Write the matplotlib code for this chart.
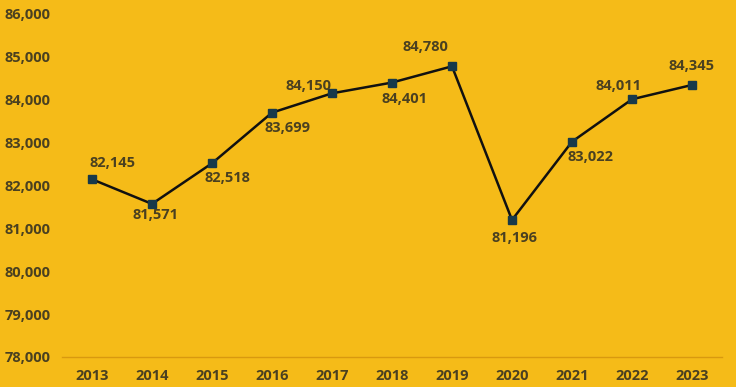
import matplotlib.pyplot as plt

years = [2013, 2014, 2015, 2016, 2017, 2018, 2019, 2020, 2021, 2022, 2023]
values = [82145, 81571, 82518, 83699, 84150, 84401, 84780, 81196, 83022, 84011, 84345]
# label offsets in pixels (dx, dy)
offsets = [(21, 16), (4, -11), (15, -15), (16, -15), (-23, 7), (13, -16),
           (-27, 19), (3, -18), (19, -15), (-13, 13), (0, 19)]

bg = '#F5BB18'
txt = '#4A4020'

plt.rcParams['font.family'] = ['Open Sans', 'DejaVu Sans']

fig = plt.figure(figsize=(7.36, 3.87), dpi=100, facecolor=bg)
ax = fig.add_axes([62 / 736, 30 / 387, 660 / 736, 343 / 387], facecolor=bg)

ax.plot(years, values, color='#111111', lw=1.8, marker='s', ms=6,
        mfc='#17394A', mec='#17394A', zorder=3)

for x, y, (dx, dy) in zip(years, values, offsets):
    ax.annotate(f'{y:,}', (x, y), xytext=(dx, dy), textcoords='offset pixels',
                ha='center', va='center', fontsize=10.5, fontweight='bold', color=txt)

ax.set_xlim(2012.5, 2023.5)
ax.set_ylim(78000, 86000)
ax.set_xticks(years)
ax.set_yticks(range(78000, 86001, 1000))
ax.set_yticklabels([f'{v:,}' for v in range(78000, 86001, 1000)])
ax.tick_params(length=0, labelsize=10.5, labelcolor=txt)
ax.tick_params(axis='x', pad=9)
ax.tick_params(axis='y', pad=8)
for lab in ax.get_xticklabels() + ax.get_yticklabels():
    lab.set_fontweight('bold')

for s in ['top', 'right', 'left']:
    ax.spines[s].set_visible(False)
ax.spines['bottom'].set_color('#D9990F')
ax.spines['bottom'].set_linewidth(1)

fig.savefig('out.png', dpi=100, facecolor=bg)
